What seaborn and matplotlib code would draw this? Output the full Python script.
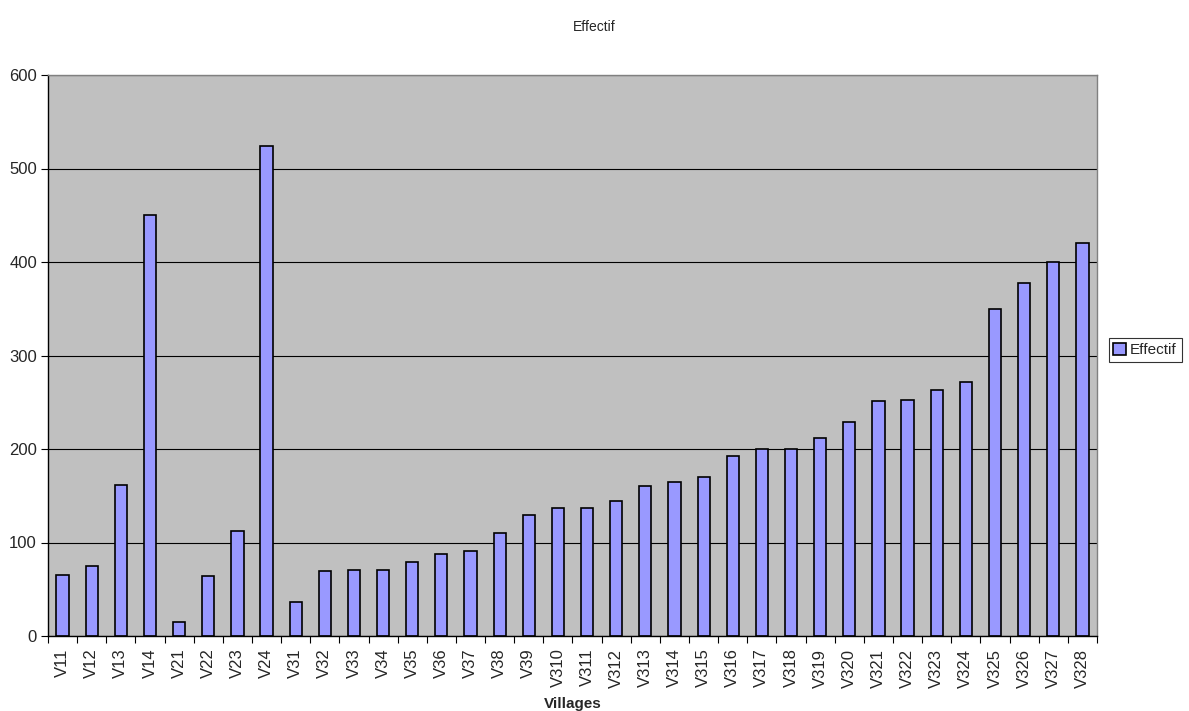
import matplotlib
matplotlib.use("Agg")
import matplotlib.pyplot as plt
import seaborn as sns
import pandas as pd
import numpy as np

villages = ["V11", "V12", "V13", "V14", "V21", "V22", "V23", "V24",
            "V31", "V32", "V33", "V34", "V35", "V36", "V37", "V38", "V39",
            "V310", "V311", "V312", "V313", "V314", "V315", "V316", "V317",
            "V318", "V319", "V320", "V321", "V322", "V323", "V324", "V325",
            "V326", "V327", "V328"]
effectif = [65, 75, 161, 450, 15, 64, 112, 524,
            36, 70, 71, 71, 79, 88, 91, 110, 129,
            137, 137, 144, 160, 165, 170, 193, 200,
            200, 212, 229, 251, 252, 263, 272, 350,
            378, 400, 420]
y_ticks = [0, 100, 200, 300, 400, 500, 600]

sns.set_theme(style="white")
plt.rcParams['font.family'] = ['Liberation Sans', 'DejaVu Sans']

df = pd.DataFrame({"Villages": villages, "Effectif": effectif})

fig = plt.figure(figsize=(11.89, 7.11), dpi=100)
ax = fig.add_axes([48 / 1189, 1 - 636 / 711, (1097 - 48) / 1189, (636 - 75) / 711])
ax.set_facecolor("#C0C0C0")

sns.barplot(data=df, x="Villages", y="Effectif", color="#9999FF", width=0.42,
            edgecolor="black", linewidth=1.2, saturation=1, ax=ax, label="Effectif")

ax.set_ylim(0, 600)
ax.set_xlim(-0.5, len(villages) - 0.5)
ax.set_yticks(y_ticks)
ax.set_yticklabels([str(t) for t in y_ticks], fontsize=12)
ax.yaxis.grid(True, color="black", linewidth=0.8)
ax.set_axisbelow(True)

ax.set_xticks(range(len(villages)))
ax.set_xticklabels(villages, rotation=90, fontsize=12)
ax.set_xticks(np.arange(-0.5, len(villages), 1), minor=True)
ax.tick_params(axis="x", which="major", bottom=True, length=0, pad=9)
ax.tick_params(axis="x", which="minor", bottom=True, length=5, width=0.8,
               color="black", direction="out")
ax.tick_params(axis="y", left=True, length=5, width=0.8, color="black",
               direction="out", pad=3)

for side in ["left", "bottom"]:
    ax.spines[side].set_color("black")
    ax.spines[side].set_linewidth(1)
for side in ["top", "right"]:
    ax.spines[side].set_color("#808080")
    ax.spines[side].set_linewidth(1)

ax.set_xlabel("Villages", fontsize=11, fontweight="bold", labelpad=7)
ax.set_ylabel("")
fig.suptitle("Effectif", y=1 - 20 / 711, fontsize=10)

leg = ax.legend(loc="center left", bbox_to_anchor=(1.004, 0.51), frameon=True,
                fontsize=11, handlelength=0.8, handleheight=0.8, handletextpad=0.3,
                borderpad=0.3, fancybox=False)
leg.get_frame().set_edgecolor("black")
leg.get_frame().set_linewidth(0.8)

fig.savefig("out.png", dpi=100)
